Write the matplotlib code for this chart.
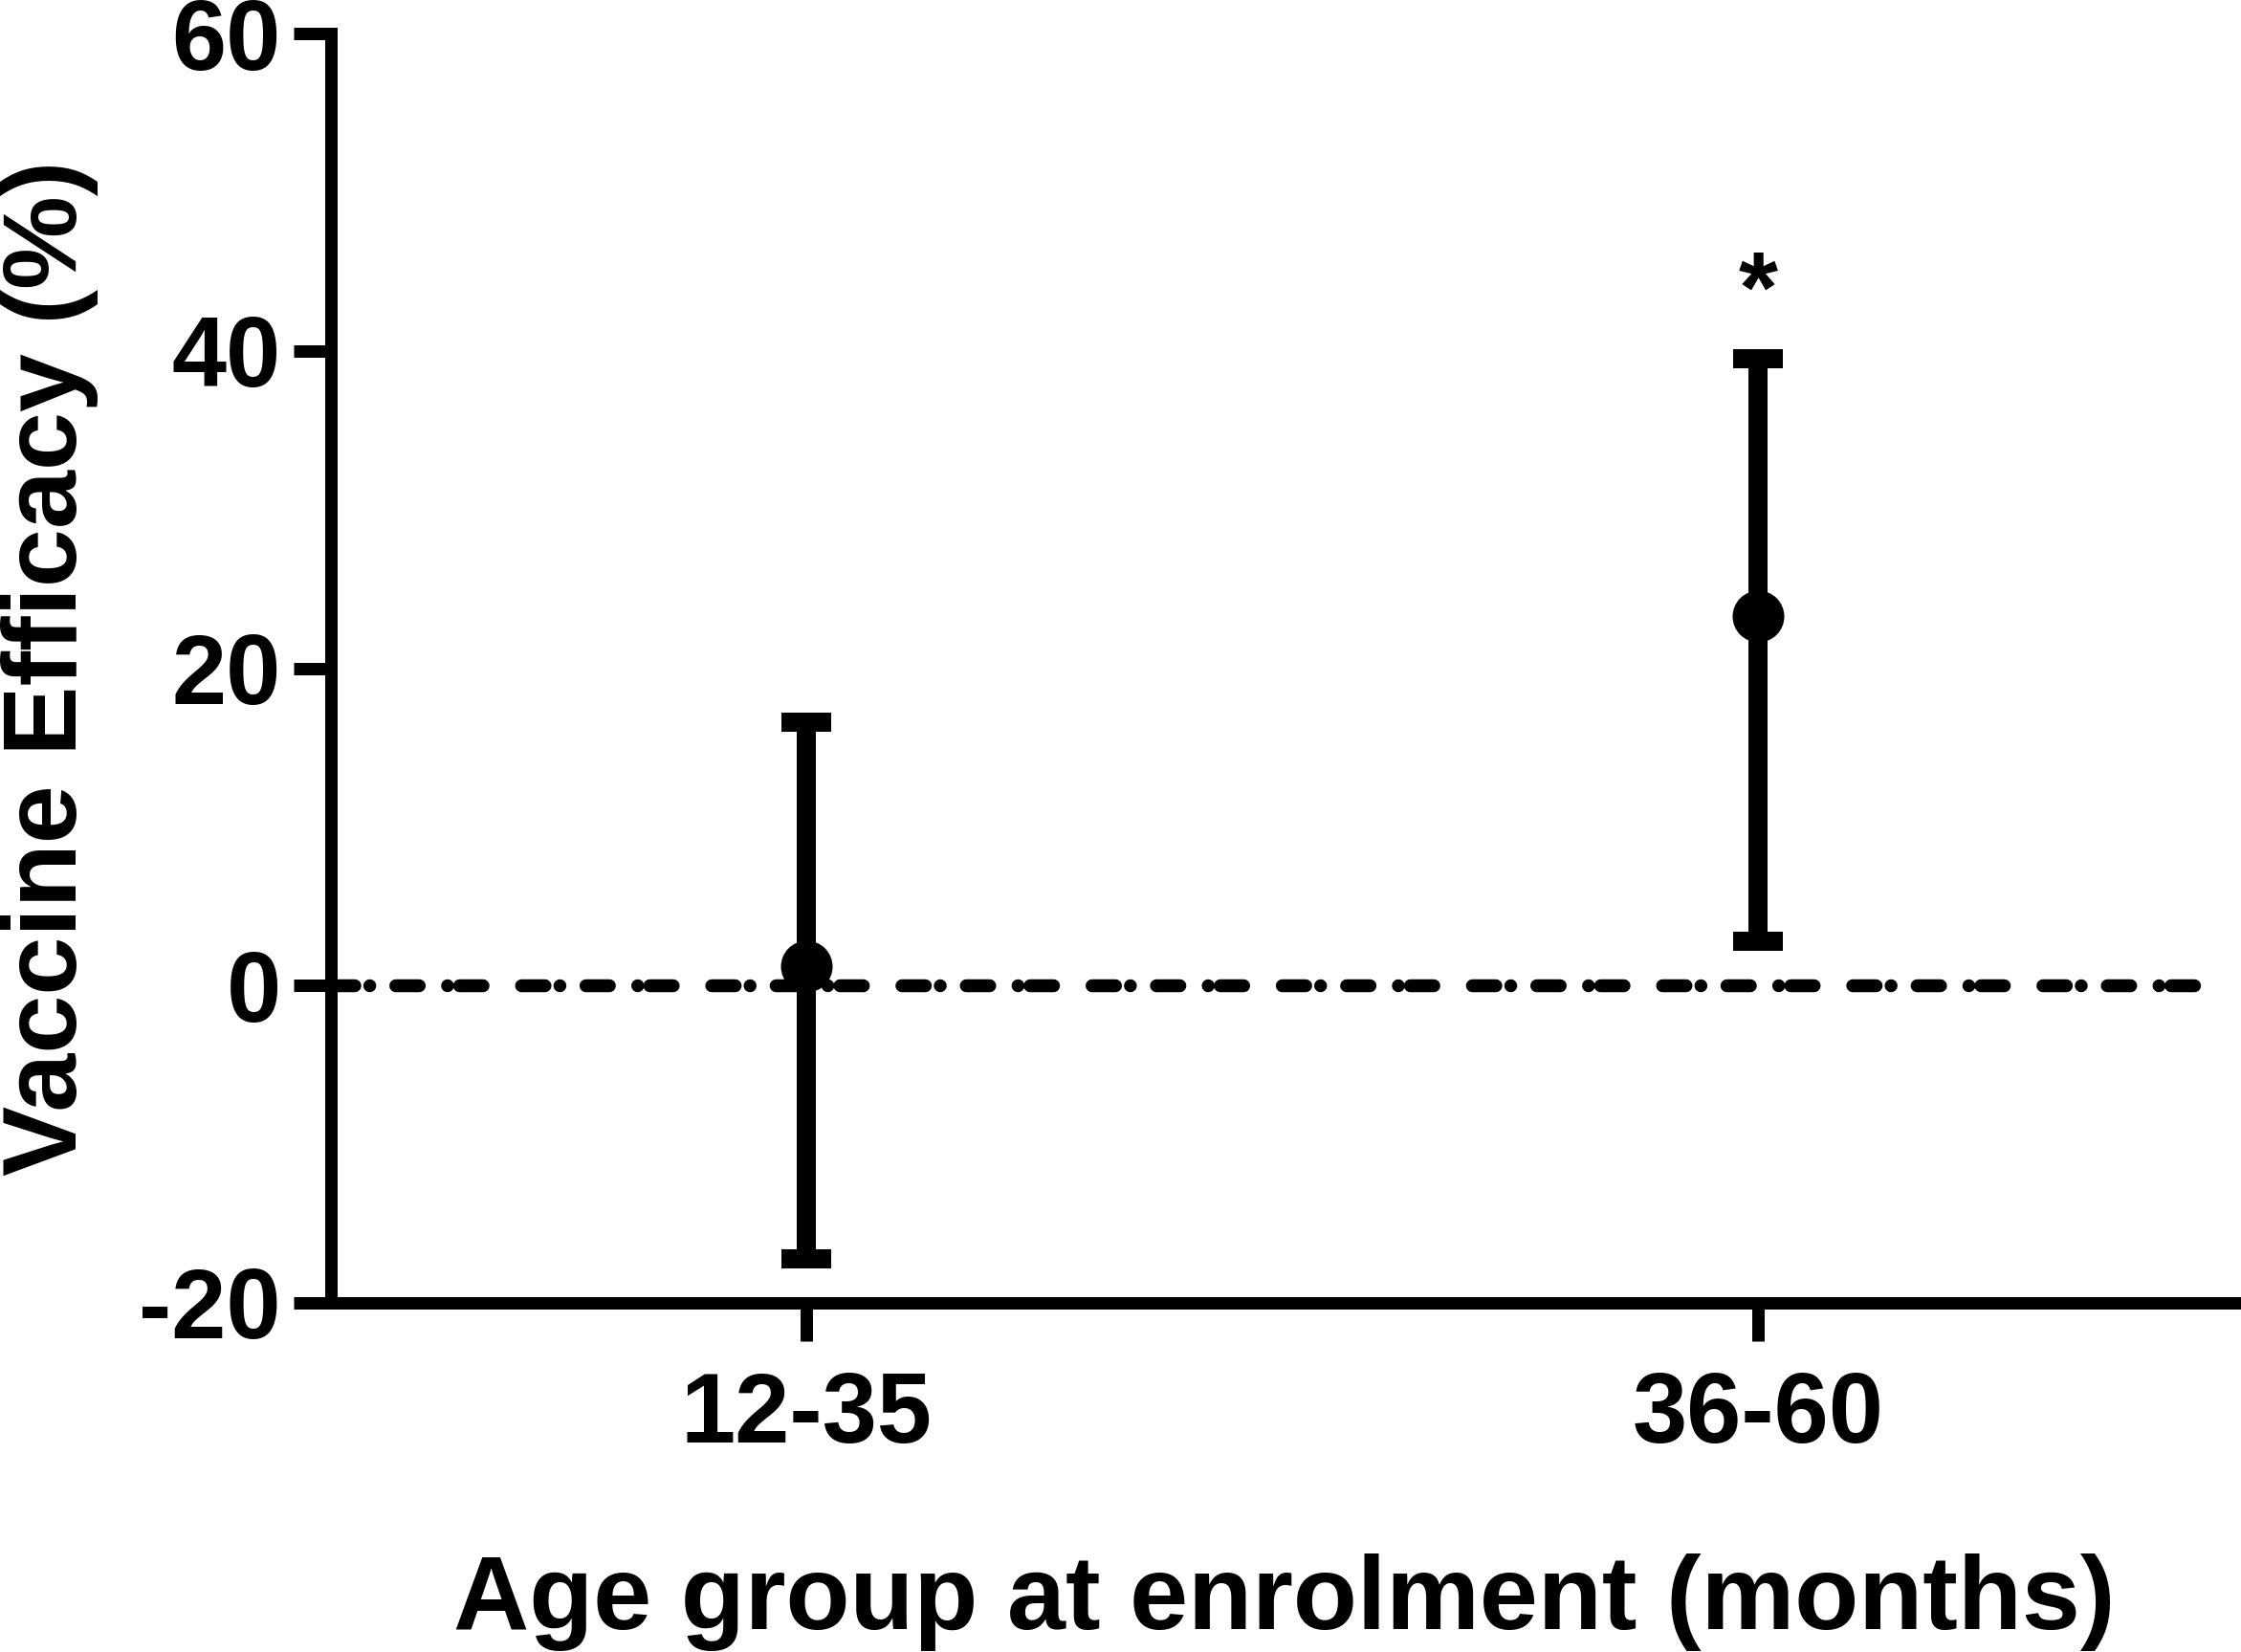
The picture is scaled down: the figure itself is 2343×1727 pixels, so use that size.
import matplotlib
matplotlib.use("Agg")
import matplotlib.pyplot as plt
import numpy as np

# ---- data ----
categories = ['12-35', '36-60']
efficacy = [1.2, 23.3]
ci_lower = [-17.2, 2.8]
ci_upper = [16.6, 39.5]
yticks = [-20, 0, 20, 40, 60]
ylabel = 'Vaccine Efficacy (%)'
xlabel = 'Age group at enrolment (months)'
significance = ['', '*']

W, H = 2343, 1727
DPI = 100
PX = 72.0 / DPI  # points per pixel

plt.rcParams['font.family'] = ['Liberation Sans', 'DejaVu Sans']
plt.rcParams['font.weight'] = 'bold'
plt.rcParams['axes.unicode_minus'] = False
plt.rcParams['lines.scale_dashes'] = False

fig = plt.figure(figsize=(W / DPI, H / DPI), dpi=DPI, facecolor='white')
left_px, right_px, top_px, bottom_px = 345.5, 2343, 35, 1362
ax = fig.add_axes([left_px / W, 1 - bottom_px / H,
                   (right_px - left_px) / W, (bottom_px - top_px) / H])

x = np.arange(len(categories))
eff = np.array(efficacy)
lo = np.array(ci_lower)
hi = np.array(ci_upper)

ax.set_xlim(-0.5, 1.5078)
ax.set_ylim(-20, 60)

# reference line at zero (dash-dot pattern)
lw_ref = 13.5 * PX
pattern_px = [24.5, 15.6, 0.01, 27.2, 24.5, 29.6, 0.01, 12.6, 24.5, 40.3]
pattern = [p * PX for p in pattern_px]
ax.plot([-0.5, 1.4645], [0, 0], color='black', lw=lw_ref,
        linestyle=(0, pattern), dash_capstyle='round', zorder=1, clip_on=False)

# confidence intervals
ax.errorbar(x, eff, yerr=[eff - lo, hi - eff], fmt='none', ecolor='black',
            elinewidth=20 * PX, capsize=26.5 * PX, capthick=20 * PX,
            zorder=3, clip_on=False)
# point estimates
ax.plot(x, eff, linestyle='none', marker='o', color='black',
        markersize=54 * PX, markeredgewidth=0, zorder=4, clip_on=False)

# significance marks
for xi, s in zip(x, significance):
    if s:
        ax.text(xi, 41.8, s, ha='center', va='baseline', fontsize=76,
                fontweight='bold')

# axes styling
for side in ['top', 'right']:
    ax.spines[side].set_visible(False)
for side in ['left', 'bottom']:
    ax.spines[side].set_linewidth(13 * PX)
    ax.spines[side].set_capstyle('projecting')

ax.set_yticks(yticks)
ax.set_yticklabels([str(t) for t in yticks])
ax.set_xticks(x)
ax.set_xticklabels(categories)
ax.tick_params(axis='y', direction='out', length=39.5 * PX, width=13 * PX,
               pad=12 * PX, labelsize=74)
ax.tick_params(axis='x', direction='out', length=40 * PX, width=13 * PX,
               pad=31 * PX, labelsize=74)
for lab in ax.get_xticklabels() + ax.get_yticklabels():
    lab.set_fontweight('bold')

fig.text(80 / W, 1 - 698 / H, ylabel, rotation=90, rotation_mode='anchor',
         ha='center', va='baseline', fontsize=79, fontweight='bold')
fig.text(1343 / W, 1 - 1703 / H, xlabel, ha='center', va='baseline',
         fontsize=79, fontweight='bold')

fig.savefig('out.png', dpi=DPI, facecolor='white')
